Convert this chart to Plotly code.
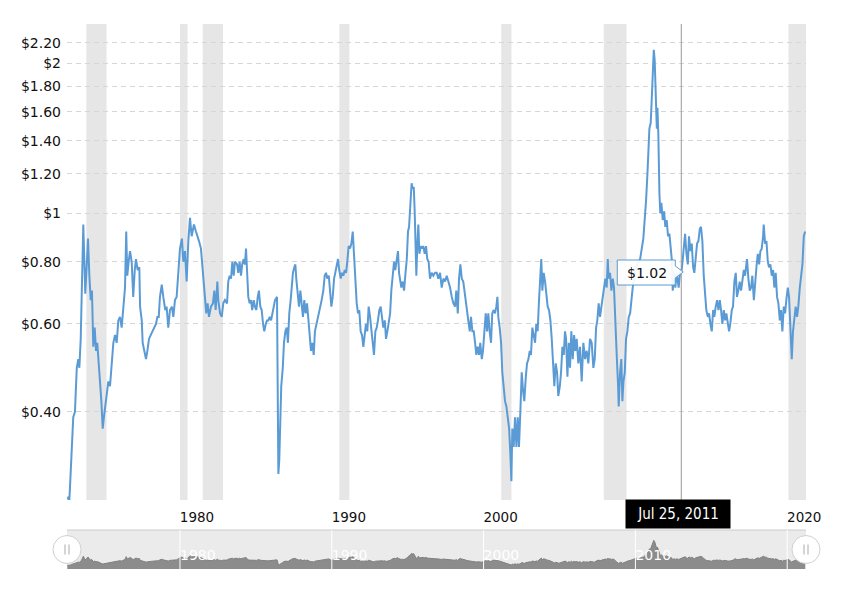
import numpy as np
import pandas as pd
import plotly.graph_objects as go

# cotton price history ($ per lb) - time in decimal years
years = [
    1972.58, 1972.71, 1972.75, 1972.87, 1972.97, 1973.08, 1973.20, 1973.30, 1973.37, 1973.46,
    1973.52, 1973.59, 1973.63, 1973.70, 1973.76, 1973.85, 1973.94, 1974.03, 1974.12, 1974.20,
    1974.29, 1974.38, 1974.47, 1974.55, 1974.64, 1974.73, 1974.82, 1974.91, 1974.99, 1975.08,
    1975.17, 1975.28, 1975.39, 1975.50, 1975.61, 1975.72, 1975.83, 1975.94, 1976.05, 1976.16,
    1976.27, 1976.38, 1976.46, 1976.53, 1976.62, 1976.71, 1976.82, 1976.92, 1977.02, 1977.10,
    1977.21, 1977.32, 1977.37, 1977.48, 1977.54, 1977.65, 1977.76, 1977.85, 1977.96, 1978.07,
    1978.18, 1978.29, 1978.42, 1978.51, 1978.60, 1978.68, 1978.80, 1978.90, 1979.03, 1979.12,
    1979.23, 1979.34, 1979.47, 1979.56, 1979.67, 1979.78, 1979.89, 1980.00, 1980.13, 1980.22,
    1980.33, 1980.44, 1980.55, 1980.61, 1980.66, 1980.77, 1980.92, 1981.05, 1981.17, 1981.25,
    1981.38, 1981.47, 1981.56, 1981.65, 1981.73, 1981.82, 1981.91, 1982.04, 1982.17, 1982.26,
    1982.35, 1982.46, 1982.52, 1982.64, 1982.75, 1982.85, 1982.96, 1983.10, 1983.18, 1983.27,
    1983.36, 1983.45, 1983.54, 1983.62, 1983.76, 1983.84, 1983.93, 1984.02, 1984.10, 1984.20,
    1984.28, 1984.35, 1984.41, 1984.50, 1984.59, 1984.68, 1984.76, 1984.86, 1984.94, 1985.03,
    1985.12, 1985.20, 1985.29, 1985.38, 1985.47, 1985.55, 1985.65, 1985.73, 1985.82, 1985.91,
    1986.00, 1986.08, 1986.17, 1986.26, 1986.39, 1986.46, 1986.48, 1986.54, 1986.61, 1986.67,
    1986.77, 1986.85, 1986.94, 1987.03, 1987.11, 1987.20, 1987.29, 1987.36, 1987.44, 1987.53,
    1987.60, 1987.66, 1987.75, 1987.84, 1987.93, 1988.02, 1988.10, 1988.19, 1988.28, 1988.37,
    1988.45, 1988.54, 1988.63, 1988.72, 1988.81, 1988.89, 1989.00, 1989.11, 1989.22, 1989.33,
    1989.44, 1989.53, 1989.62, 1989.70, 1989.80, 1989.88, 1989.97, 1990.06, 1990.15, 1990.23,
    1990.32, 1990.41, 1990.49, 1990.59, 1990.67, 1990.76, 1990.85, 1990.94, 1991.02, 1991.11,
    1991.20, 1991.29, 1991.38, 1991.44, 1991.51, 1991.57, 1991.64, 1991.73, 1991.81, 1991.90,
    1991.99, 1992.08, 1992.17, 1992.25, 1992.34, 1992.43, 1992.52, 1992.60, 1992.69, 1992.78,
    1992.87, 1992.96, 1993.04, 1993.13, 1993.22, 1993.31, 1993.39, 1993.49, 1993.57, 1993.66,
    1993.75, 1993.84, 1993.92, 1994.01, 1994.10, 1994.18, 1994.28, 1994.36, 1994.43, 1994.49,
    1994.58, 1994.67, 1994.76, 1994.84, 1994.94, 1995.02, 1995.09, 1995.15, 1995.20, 1995.26,
    1995.33, 1995.40, 1995.46, 1995.53, 1995.57, 1995.63, 1995.70, 1995.77, 1995.86, 1995.94,
    1996.03, 1996.12, 1996.21, 1996.29, 1996.38, 1996.47, 1996.58, 1996.69, 1996.80, 1996.91,
    1997.02, 1997.13, 1997.24, 1997.35, 1997.46, 1997.57, 1997.68, 1997.79, 1997.90, 1998.01,
    1998.12, 1998.20, 1998.30, 1998.38, 1998.47, 1998.56, 1998.66, 1998.78, 1998.89, 1998.99,
    1999.09, 1999.17, 1999.26, 1999.35, 1999.44, 1999.52, 1999.61, 1999.70, 1999.78, 1999.88,
    1999.96, 2000.05, 2000.14, 2000.23, 2000.31, 2000.40, 2000.49, 2000.57, 2000.67, 2000.75,
    2000.84, 2000.91, 2000.97, 2001.06, 2001.15, 2001.23, 2001.33, 2001.41, 2001.50, 2001.59,
    2001.68, 2001.76, 2001.83, 2001.89, 2001.98, 2002.07, 2002.16, 2002.25, 2002.33, 2002.42,
    2002.51, 2002.60, 2002.68, 2002.78, 2002.86, 2002.95, 2003.04, 2003.12, 2003.21, 2003.30,
    2003.39, 2003.47, 2003.56, 2003.65, 2003.74, 2003.80, 2003.87, 2003.96, 2004.05, 2004.13,
    2004.22, 2004.31, 2004.40, 2004.49, 2004.57, 2004.66, 2004.75, 2004.84, 2004.92, 2005.02,
    2005.10, 2005.19, 2005.28, 2005.36, 2005.43, 2005.52, 2005.61, 2005.69, 2005.78, 2005.87,
    2005.96, 2006.04, 2006.13, 2006.24, 2006.35, 2006.46, 2006.57, 2006.68, 2006.79, 2006.90,
    2007.01, 2007.12, 2007.23, 2007.32, 2007.41, 2007.49, 2007.58, 2007.67, 2007.76, 2007.85,
    2007.93, 2008.02, 2008.11, 2008.18, 2008.24, 2008.33, 2008.42, 2008.51, 2008.59, 2008.68,
    2008.77, 2008.86, 2008.90, 2008.99, 2009.07, 2009.14, 2009.21, 2009.30, 2009.38, 2009.47,
    2009.56, 2009.65, 2009.73, 2009.82, 2010.04, 2010.31, 2010.52, 2010.63, 2010.70, 2010.79,
    2010.85, 2010.92, 2011.01, 2011.08, 2011.14, 2011.21, 2011.27, 2011.34, 2011.41, 2011.45,
    2011.51, 2011.58, 2011.64, 2011.71, 2011.80, 2011.89, 2011.97, 2012.06, 2012.15, 2012.24,
    2012.33, 2012.41, 2012.46, 2012.55, 2012.63, 2012.72, 2012.85, 2012.94, 2013.05, 2013.16,
    2013.27, 2013.36, 2013.45, 2013.53, 2013.62, 2013.71, 2013.80, 2013.88, 2013.97, 2014.06,
    2014.15, 2014.24, 2014.32, 2014.41, 2014.50, 2014.59, 2014.67, 2014.77, 2014.85, 2014.94,
    2015.03, 2015.12, 2015.20, 2015.29, 2015.38, 2015.47, 2015.56, 2015.64, 2015.73, 2015.82,
    2015.91, 2015.99, 2016.08, 2016.17, 2016.25, 2016.35, 2016.43, 2016.52, 2016.61, 2016.69,
    2016.78, 2016.87, 2016.96, 2017.05, 2017.14, 2017.22, 2017.31, 2017.35, 2017.44, 2017.53,
    2017.62, 2017.70, 2017.80, 2017.88, 2017.97, 2018.06, 2018.15, 2018.23, 2018.32, 2018.41,
    2018.45, 2018.54, 2018.63, 2018.72, 2018.80, 2018.89, 2018.98, 2019.07, 2019.15, 2019.24,
    2019.33, 2019.42, 2019.51, 2019.59, 2019.68, 2019.77, 2019.86, 2019.94, 2020.04, 2020.12,
    2020.21, 2020.30, 2020.38, 2020.47, 2020.56, 2020.65, 2020.73, 2020.83, 2020.91, 2021.00,
    2021.09, 2021.18,
]
prices = [
    0.27, 0.265, 0.28, 0.34, 0.39, 0.40, 0.49, 0.51, 0.49, 0.56,
    0.66, 0.85, 0.95, 0.80, 0.69, 0.78, 0.89, 0.75, 0.67, 0.70,
    0.54, 0.59, 0.53, 0.55, 0.49, 0.46, 0.42, 0.37, 0.39, 0.41,
    0.44, 0.46, 0.45, 0.50, 0.55, 0.57, 0.55, 0.61, 0.62, 0.59,
    0.66, 0.71, 0.92, 0.75, 0.80, 0.84, 0.80, 0.68, 0.77, 0.81,
    0.77, 0.78, 0.65, 0.61, 0.55, 0.53, 0.51, 0.53, 0.56, 0.57,
    0.58, 0.59, 0.60, 0.62, 0.62, 0.68, 0.72, 0.68, 0.64, 0.65,
    0.59, 0.64, 0.65, 0.62, 0.67, 0.68, 0.76, 0.85, 0.89, 0.80,
    0.84, 0.73, 0.88, 0.97, 0.98, 0.90, 0.95, 0.92, 0.90, 0.88,
    0.85, 0.78, 0.71, 0.66, 0.63, 0.66, 0.62, 0.65, 0.66, 0.70,
    0.64, 0.73, 0.67, 0.63, 0.62, 0.66, 0.67, 0.66, 0.73, 0.75,
    0.74, 0.80, 0.75, 0.80, 0.79, 0.76, 0.80, 0.75, 0.79, 0.81,
    0.79, 0.85, 0.79, 0.68, 0.66, 0.67, 0.64, 0.67, 0.65, 0.64,
    0.68, 0.70, 0.65, 0.64, 0.60, 0.58, 0.60, 0.61, 0.61, 0.62,
    0.61, 0.63, 0.65, 0.67, 0.68, 0.42, 0.30, 0.32, 0.39, 0.45,
    0.49, 0.55, 0.58, 0.59, 0.55, 0.63, 0.67, 0.73, 0.76, 0.78,
    0.79, 0.74, 0.70, 0.65, 0.70, 0.65, 0.62, 0.67, 0.63, 0.66,
    0.62, 0.56, 0.53, 0.55, 0.52, 0.58, 0.60, 0.62, 0.64, 0.67,
    0.70, 0.75, 0.76, 0.74, 0.75, 0.70, 0.65, 0.68, 0.74, 0.76,
    0.78, 0.81, 0.77, 0.74, 0.76, 0.75, 0.77, 0.76, 0.80, 0.86,
    0.85, 0.87, 0.92, 0.85, 0.77, 0.70, 0.66, 0.63, 0.64, 0.58,
    0.57, 0.54, 0.58, 0.60, 0.58, 0.65, 0.62, 0.58, 0.56, 0.52,
    0.58, 0.59, 0.61, 0.64, 0.65, 0.61, 0.59, 0.61, 0.56, 0.58,
    0.60, 0.63, 0.70, 0.75, 0.80, 0.77, 0.80, 0.84, 0.76, 0.73,
    0.71, 0.73, 0.70, 0.75, 0.81, 0.92, 0.94, 1.01, 1.10, 1.15,
    1.12, 1.13, 1.01, 0.86, 0.75, 0.86, 0.95, 0.83, 0.86, 0.85,
    0.86, 0.83, 0.86, 0.81, 0.80, 0.74, 0.76, 0.75, 0.76, 0.76,
    0.74, 0.76, 0.71, 0.74, 0.73, 0.75, 0.73, 0.71, 0.68, 0.66,
    0.65, 0.70, 0.63, 0.74, 0.79, 0.74, 0.73, 0.68, 0.63, 0.61,
    0.58, 0.62, 0.58, 0.58, 0.55, 0.52, 0.54, 0.52, 0.55, 0.51,
    0.53, 0.58, 0.63, 0.58, 0.63, 0.58, 0.55, 0.63, 0.64, 0.63,
    0.65, 0.68, 0.62, 0.59, 0.55, 0.48, 0.45, 0.42, 0.41, 0.39,
    0.37, 0.33, 0.29, 0.37, 0.34, 0.39, 0.34, 0.39, 0.34, 0.40,
    0.48, 0.44, 0.42, 0.47, 0.50, 0.51, 0.53, 0.52, 0.59, 0.57,
    0.55, 0.60, 0.58, 0.67, 0.74, 0.81, 0.70, 0.76, 0.73, 0.68,
    0.65, 0.64, 0.61, 0.56, 0.51, 0.45, 0.50, 0.48, 0.43, 0.45,
    0.48, 0.54, 0.52, 0.58, 0.56, 0.47, 0.55, 0.49, 0.58, 0.51,
    0.57, 0.53, 0.56, 0.50, 0.54, 0.46, 0.55, 0.51, 0.53, 0.50,
    0.56, 0.55, 0.49, 0.51, 0.59, 0.61, 0.66, 0.62, 0.65, 0.68,
    0.71, 0.74, 0.71, 0.81, 0.74, 0.76, 0.70, 0.74, 0.71, 0.59,
    0.52, 0.45, 0.41, 0.48, 0.51, 0.42, 0.46, 0.48, 0.56, 0.58,
    0.62, 0.63, 0.68, 0.71, 0.78, 0.81, 0.89, 0.97, 1.06, 1.20,
    1.40, 1.48, 1.52, 1.77, 1.96, 2.13, 2.03, 1.68, 1.48, 1.63,
    1.44, 1.10, 1.00, 1.05, 0.97, 1.01, 0.94, 0.97, 0.90, 0.91,
    0.85, 0.80, 0.70, 0.76, 0.71, 0.76, 0.71, 0.76, 0.77, 0.84,
    0.91, 0.83, 0.79, 0.90, 0.84, 0.87, 0.78, 0.76, 0.83, 0.87,
    0.88, 0.93, 0.94, 0.88, 0.75, 0.70, 0.64, 0.62, 0.63, 0.60,
    0.58, 0.64, 0.62, 0.65, 0.67, 0.64, 0.67, 0.64, 0.60, 0.64,
    0.61, 0.63, 0.60, 0.58, 0.60, 0.64, 0.65, 0.73, 0.76, 0.68,
    0.70, 0.73, 0.70, 0.74, 0.77, 0.75, 0.78, 0.81, 0.74, 0.70,
    0.71, 0.75, 0.67, 0.73, 0.78, 0.83, 0.79, 0.84, 0.85, 0.90,
    0.95, 0.87, 0.88, 0.80, 0.78, 0.79, 0.75, 0.77, 0.71, 0.76,
    0.68, 0.66, 0.61, 0.64, 0.58, 0.65, 0.63, 0.67, 0.71, 0.68,
    0.58, 0.51, 0.58, 0.61, 0.65, 0.62, 0.65, 0.71, 0.75, 0.79,
    0.90, 0.92,
]

# US recessions (shaded)
recession_start = ["1973-11-01", "1980-01-01", "1981-07-01", "1990-07-01", "2001-03-01", "2007-12-01", "2020-02-01"]
recession_end = ["1975-03-01", "1980-07-01", "1982-11-01", "1991-03-01", "2001-11-01", "2009-06-01", "2021-03-28"]

ytick_vals = [0.4, 0.6, 0.8, 1, 1.2, 1.4, 1.6, 1.8, 2, 2.2]
ytick_text = ["$0.40", "$0.60", "$0.80", "$1", "$1.20", "$1.40", "$1.60", "$1.80", "$2", "$2.20"]
# 2010 sits under the crosshair date label, so the main axis leaves it out
xtick_years = [1980, 1990, 2000, 2020]
nav_tick_years = [1980, 1990, 2000, 2010, 2020]

# hover state shown in the screenshot
hover_label = "Jul 25, 2011"
hover_value = 1.02
crosshair_date = "2013-01-08"

x_start, x_end = "1972-07-23", "2021-03-28"
y_min, y_max = 0.266, 2.40

BLUE = "#5b9bd5"
FONT = "DejaVu Sans, Verdana, sans-serif"


def to_date(y):
    yr = int(y)
    return pd.Timestamp(year=yr, month=1, day=1) + pd.Timedelta(days=(y - yr) * 365.25)


dates = [to_date(y) for y in years]
tick_dates = [f"{y}-01-01" for y in xtick_years]
tick_text = [str(y) for y in xtick_years]
nav_dates = [f"{y}-01-01" for y in nav_tick_years]
nav_text = [str(y) for y in nav_tick_years]

# layout in pixels: plot top 24, main bottom 500, navigator 530-569
H_PLOT = 598 - 24 - 29
main_bottom = (569 - 500) / H_PLOT
nav_top = (569 - 530) / H_PLOT

fig = go.Figure()
fig.add_trace(go.Scatter(x=dates, y=prices, mode="lines",
                         line=dict(color=BLUE, width=2), xaxis="x", yaxis="y",
                         hoverinfo="skip"))
# navigator series
fig.add_trace(go.Scatter(x=dates, y=prices, mode="lines",
                         line=dict(color="#808080", width=1), fill="tozeroy",
                         fillcolor="#8c8c8c", xaxis="x2", yaxis="y2", hoverinfo="skip"))

shapes = []
for s, e in zip(recession_start, recession_end):
    shapes.append(dict(type="rect", xref="x", yref="y domain", x0=s, x1=e, y0=0, y1=1,
                       fillcolor="#e6e6e6", line=dict(width=0), layer="below"))

# navigator background + outline
shapes.append(dict(type="rect", xref="x2 domain", yref="y2 domain", x0=0, x1=1, y0=0, y1=1,
                   fillcolor="#ebebeb", line=dict(width=0), layer="below"))
shapes.append(dict(type="line", xref="x2 domain", yref="y2 domain", x0=0, x1=1, y0=1, y1=1,
                   line=dict(color="#cccccc", width=1)))
for d in nav_dates:
    shapes.append(dict(type="line", xref="x2", yref="y2 domain", x0=d, x1=d, y0=0, y1=1,
                       line=dict(color="white", width=1), layer="above"))

# crosshair
shapes.append(dict(type="line", xref="x", yref="y domain", x0=crosshair_date, x1=crosshair_date,
                   y0=0, y1=1, line=dict(color="#999999", width=1)))

# tooltip callout
tip_y = (569 - 272) / H_PLOT
shapes.append(dict(type="path", xref="x", yref="paper", xsizemode="pixel", ysizemode="pixel",
                   xanchor=crosshair_date, yanchor=tip_y,
                   path="M -64,12 L -6,12 L -6,6 L 2,0 L -6,-6 L -6,-13 L -64,-13 Z",
                   fillcolor="rgba(255,255,255,0.92)", line=dict(color=BLUE, width=1)))

# navigator handles
nav_mid = nav_top / 2
for hx in [0, 1]:
    shapes.append(dict(type="circle", xref="paper", yref="paper", xsizemode="pixel", ysizemode="pixel",
                       xanchor=hx, yanchor=nav_mid, x0=-14, x1=14, y0=-14, y1=14,
                       fillcolor="white", line=dict(color="#d0d0d0", width=1)))
    for dx in [-2, 2]:
        shapes.append(dict(type="line", xref="paper", yref="paper", xsizemode="pixel", ysizemode="pixel",
                           xanchor=hx, yanchor=nav_mid, x0=dx, x1=dx, y0=-5, y1=5,
                           line=dict(color="#aaaaaa", width=1)))

annotations = [
    dict(xref="x", yref="paper", x=crosshair_date, y=(569 - 514) / H_PLOT, xshift=-3,
         xanchor="center", yanchor="middle",
         text=hover_label, showarrow=False, bgcolor="black", width=96, height=20, borderpad=4,
         font=dict(family="DejaVu Sans Condensed, DejaVu Sans", size=15, color="white")),
    dict(xref="x", yref="paper", x=crosshair_date, y=(569 - 273) / H_PLOT, xshift=-34,
         xanchor="center", yanchor="middle",
         text=f"${hover_value:.2f}", showarrow=False,
         font=dict(family=FONT, size=14, color="#111111")),
]

fig.update_layout(
    width=853, height=598,
    margin=dict(l=67, r=47, t=24, b=29),
    paper_bgcolor="white", plot_bgcolor="white",
    showlegend=False,
    font=dict(family=FONT, size=14, color="#111111"),
    xaxis=dict(type="date", range=[x_start, x_end], domain=[0, 1], anchor="y",
               tickvals=tick_dates, ticktext=tick_text, ticklabelshift=17, ticklabelstandoff=7,
               showgrid=False, zeroline=False, showline=False, ticks="",
               tickfont=dict(size=13.5, color="#111111")),
    yaxis=dict(type="log", range=[np.log10(y_min), np.log10(y_max)], domain=[main_bottom, 1],
               tickvals=ytick_vals, ticktext=ytick_text, showgrid=True, gridcolor="#d6d6d6",
               griddash="5px,4px", gridwidth=1, zeroline=False, showline=False, ticks="",
               ticklabelstandoff=5, tickfont=dict(size=14, color="#111111")),
    xaxis2=dict(type="date", range=[x_start, x_end], domain=[0, 1], anchor="y2",
                tickvals=nav_dates[:4], ticktext=nav_text[:4], ticklabelposition="inside right",
                showgrid=False, zeroline=False, showline=False, ticks="",
                tickfont=dict(size=14, color="white")),
    yaxis2=dict(range=[0, 2.9], domain=[0, nav_top], showticklabels=False, showgrid=False,
                zeroline=False, showline=False, ticks=""),
    shapes=shapes,
    annotations=annotations,
)

fig.write_html("out.html", config={"displayModeBar": False},
               post_script="document.body.style.margin='0';")
